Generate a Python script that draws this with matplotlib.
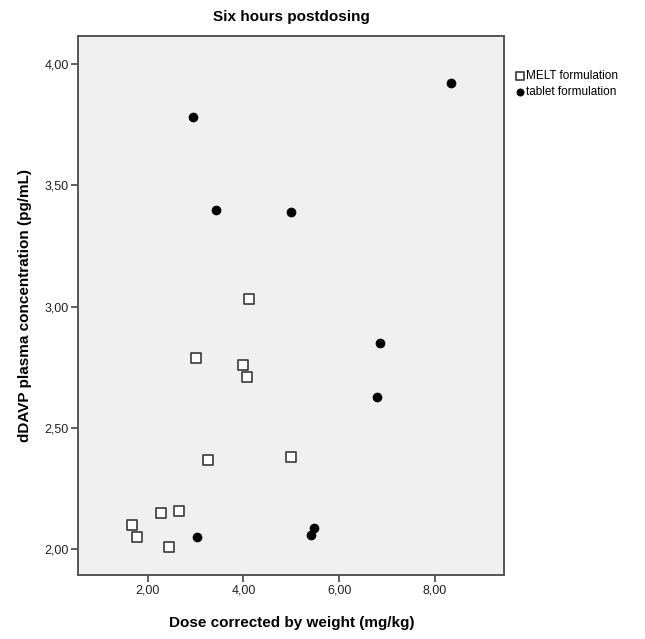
import numpy as np
import matplotlib
matplotlib.use('Agg')
import matplotlib.pyplot as plt
from matplotlib.ticker import FuncFormatter

plt.rcParams['font.family'] = ['Liberation Sans', 'DejaVu Sans']

# MELT formulation (open squares)
melt_dose = [4.12, 3.01, 3.99, 4.08, 3.25, 5.00, 2.27, 2.65, 1.67, 1.78, 2.44]
melt_conc = [3.03, 2.79, 2.76, 2.71, 2.37, 2.38, 2.15, 2.16, 2.10, 2.05, 2.01]

# tablet formulation (filled circles)
tab_dose = [8.33, 2.95, 3.42, 5.00, 6.85, 6.78, 5.48, 5.41, 3.03]
tab_conc = [3.92, 3.78, 3.40, 3.39, 2.85, 2.63, 2.09, 2.06, 2.05]

x_ticks = [2, 4, 6, 8]
y_ticks = [2.0, 2.5, 3.0, 3.5, 4.0]

fig = plt.figure(figsize=(6.45, 6.39), dpi=100)
ax = fig.add_axes([0.1214, 0.1002, 0.6605, 0.8435])
ax.set_facecolor('#f0f0f0')

ax.scatter(melt_dose, melt_conc, marker='s', s=62, facecolor='white',
           edgecolor='#3a3a3a', linewidth=1.2, label='MELT formulation', zorder=3)
ax.scatter(tab_dose, tab_conc, marker='o', s=42, facecolor='black',
           edgecolor='black', linewidth=0.5, label='tablet formulation', zorder=3)

ax.set_xlim(0.551, 9.447)
ax.set_ylim(1.895, 4.115)
ax.set_xticks(x_ticks)
ax.set_yticks(y_ticks)
comma = FuncFormatter(lambda v, p: ('%.2f' % v).replace('.', ','))
ax.xaxis.set_major_formatter(comma)
ax.yaxis.set_major_formatter(comma)
ax.tick_params(direction='out', length=5, width=1.2, color='#444444',
               labelsize=9, labelcolor='#222222', pad=2)

for s in ax.spines.values():
    s.set_color('#555555')
    s.set_linewidth(1.4)

ax.set_xlabel('Dose corrected by weight (mg/kg)', fontsize=11, fontweight='bold',
              labelpad=14)
ax.set_ylabel('dDAVP plasma concentration (pg/mL)', fontsize=11, fontweight='bold',
              labelpad=9)
ax.set_title('Six hours postdosing', fontsize=11, fontweight='bold', pad=11)

fig.legend(loc='upper left', bbox_to_anchor=(0.79, 0.899), frameon=False,
           fontsize=8.5, handlelength=0.7, handletextpad=0.2, labelspacing=0.32,
           borderpad=0, markerscale=0.8)

plt.savefig('out.png', dpi=100)
plt.close()
